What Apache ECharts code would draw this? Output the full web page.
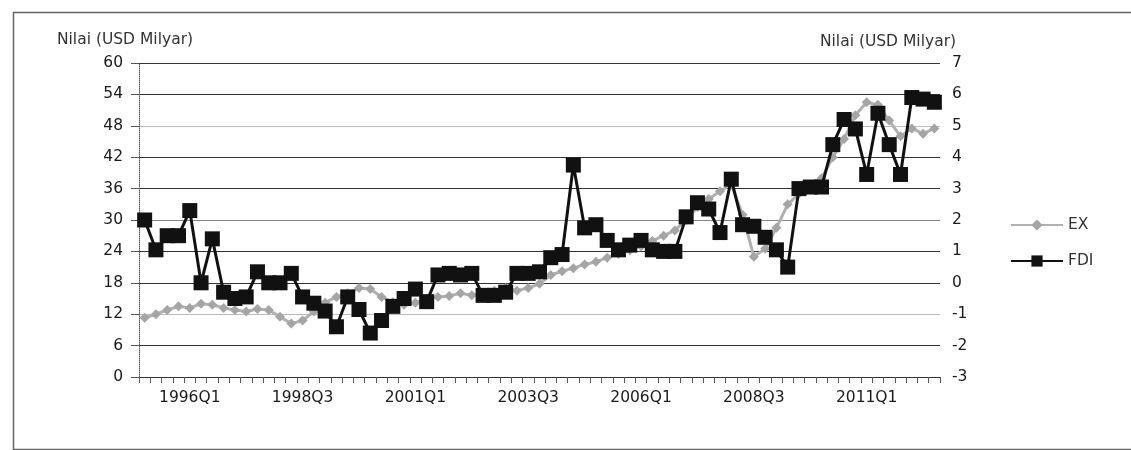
<!DOCTYPE html>
<html>
<head>
<meta charset="utf-8">
<script src="https://cdn.jsdelivr.net/npm/echarts@6/dist/echarts.min.js"></script>
<style>
html,body{margin:0;padding:0;background:#fff;}
#c{width:1131px;height:450px;}
</style>
</head>
<body>
<div id="c"></div>
<script>
const categories = [
"1995Q1","1995Q2","1995Q3","1995Q4","1996Q1","1996Q2","1996Q3","1996Q4",
"1997Q1","1997Q2","1997Q3","1997Q4","1998Q1","1998Q2","1998Q3","1998Q4",
"1999Q1","1999Q2","1999Q3","1999Q4","2000Q1","2000Q2","2000Q3","2000Q4",
"2001Q1","2001Q2","2001Q3","2001Q4","2002Q1","2002Q2","2002Q3","2002Q4",
"2003Q1","2003Q2","2003Q3","2003Q4","2004Q1","2004Q2","2004Q3","2004Q4",
"2005Q1","2005Q2","2005Q3","2005Q4","2006Q1","2006Q2","2006Q3","2006Q4",
"2007Q1","2007Q2","2007Q3","2007Q4","2008Q1","2008Q2","2008Q3","2008Q4",
"2009Q1","2009Q2","2009Q3","2009Q4","2010Q1","2010Q2","2010Q3","2010Q4",
"2011Q1","2011Q2","2011Q3","2011Q4","2012Q1","2012Q2","2012Q3"
];
// EX on left axis (USD billion)
const exValues = [
11.3,12.0,12.8,13.5,13.2,14.0,13.8,13.2,12.8,12.5,
13.0,12.8,11.5,10.2,10.8,12.5,14.2,15.3,16.0,17.0,
16.8,15.3,14.3,13.8,14.2,15.0,15.3,15.5,16.0,15.6,
16.0,16.5,17.0,16.5,17.0,17.8,19.5,20.2,20.8,21.5,
22.0,22.8,23.5,24.2,25.0,26.0,27.0,28.0,30.0,32.5,
34.0,35.5,36.8,31.0,23.0,24.5,28.5,33.0,35.0,36.0,
38.0,42.0,45.5,50.0,52.5,52.0,49.0,46.0,47.5,46.5,47.5
];
// FDI on right axis (USD billion)
const fdiValues = [
2.0,1.05,1.5,1.5,2.3,0.0,1.4,-0.3,-0.5,-0.45,
0.35,0.0,0.0,0.3,-0.45,-0.65,-0.9,-1.4,-0.45,-0.85,
-1.6,-1.2,-0.75,-0.5,-0.2,-0.6,0.25,0.3,0.25,0.3,
-0.4,-0.4,-0.3,0.3,0.3,0.35,0.8,0.9,3.75,1.75,
1.85,1.35,1.05,1.2,1.35,1.05,1.0,1.0,2.1,2.55,
2.35,1.6,3.3,1.85,1.8,1.45,1.05,0.5,3.0,3.05,
3.05,4.4,5.2,4.9,3.45,5.4,4.4,3.45,5.9,5.85,5.75
];
const leftTicks = {min:0, max:60, interval:6};
const rightTicks = {min:-3, max:7, interval:1};
const axisTitle = "Nilai (USD Milyar)";
const seriesNames = ["EX","FDI"];

const chart = echarts.init(document.getElementById('c'));
const font = "DejaVu Sans";
chart.setOption({
  animation:false,
  backgroundColor:'#fff',
  textStyle:{fontFamily:font},
  graphic:[{type:'rect',left:11,top:10,shape:{width:1130,height:437},
    style:{fill:'none',stroke:'#666',lineWidth:1.5},silent:true}],
  grid:{left:139,right:191,top:63,bottom:73},
  legend:{
    data:seriesNames, orient:'vertical', left:1005, top:212,
    itemWidth:52, itemHeight:14, itemGap:20,
    textStyle:{fontSize:15.5,color:'#333',fontFamily:font}
  },
  xAxis:{
    type:'category', data:categories, boundaryGap:true,
    axisLine:{show:true,lineStyle:{color:'#333',width:1}},
    axisTick:{show:true,interval:0,length:6,lineStyle:{color:'#555'}},
    axisLabel:{interval:(i)=>((i-4)%10===0),color:'#1a1a1a',fontSize:15.5,margin:13,fontFamily:font},
    splitLine:{show:false}
  },
  yAxis:[{
    type:'value', min:leftTicks.min, max:leftTicks.max, interval:leftTicks.interval,
    position:'left',
    name:axisTitle, nameLocation:'end', nameGap:15,
    nameTextStyle:{color:'#333',fontSize:15.5,fontFamily:font,align:'center',padding:[0,28,0,0]},
    axisLine:{show:true,lineStyle:{color:'#555',type:'dotted'}},
    axisTick:{show:true,length:8,lineStyle:{color:'#555'}},
    axisLabel:{color:'#1a1a1a',fontSize:15.5,margin:16,fontFamily:font},
    splitLine:{show:true,lineStyle:{color:['#333','#333','#bbb','#333','#333','#888','#333','#333','#bbb','#333','#333'],width:1.2}}
  },{
    type:'value', min:rightTicks.min, max:rightTicks.max, interval:rightTicks.interval,
    position:'right',
    name:axisTitle, nameLocation:'end', nameGap:13,
    nameTextStyle:{color:'#333',fontSize:15.5,fontFamily:font,align:'center',padding:[0,104,0,0]},
    axisLine:{show:false}, axisTick:{show:false},
    axisLabel:{color:'#1a1a1a',fontSize:15.5,margin:12,fontFamily:font},
    splitLine:{show:false}
  }],
  series:[{
    name:seriesNames[0], type:'line', yAxisIndex:0, data:exValues,
    symbol:'diamond', symbolSize:10, showAllSymbol:true,
    lineStyle:{color:'#b0b0b0',width:3}, itemStyle:{color:'#a5a5a5'}, z:2
  },{
    name:seriesNames[1], type:'line', yAxisIndex:1, data:fdiValues,
    symbol:'rect', symbolSize:15, showAllSymbol:true,
    lineStyle:{color:'#111',width:3}, itemStyle:{color:'#111'}, z:3
  }]
});
</script>
</body>
</html>
